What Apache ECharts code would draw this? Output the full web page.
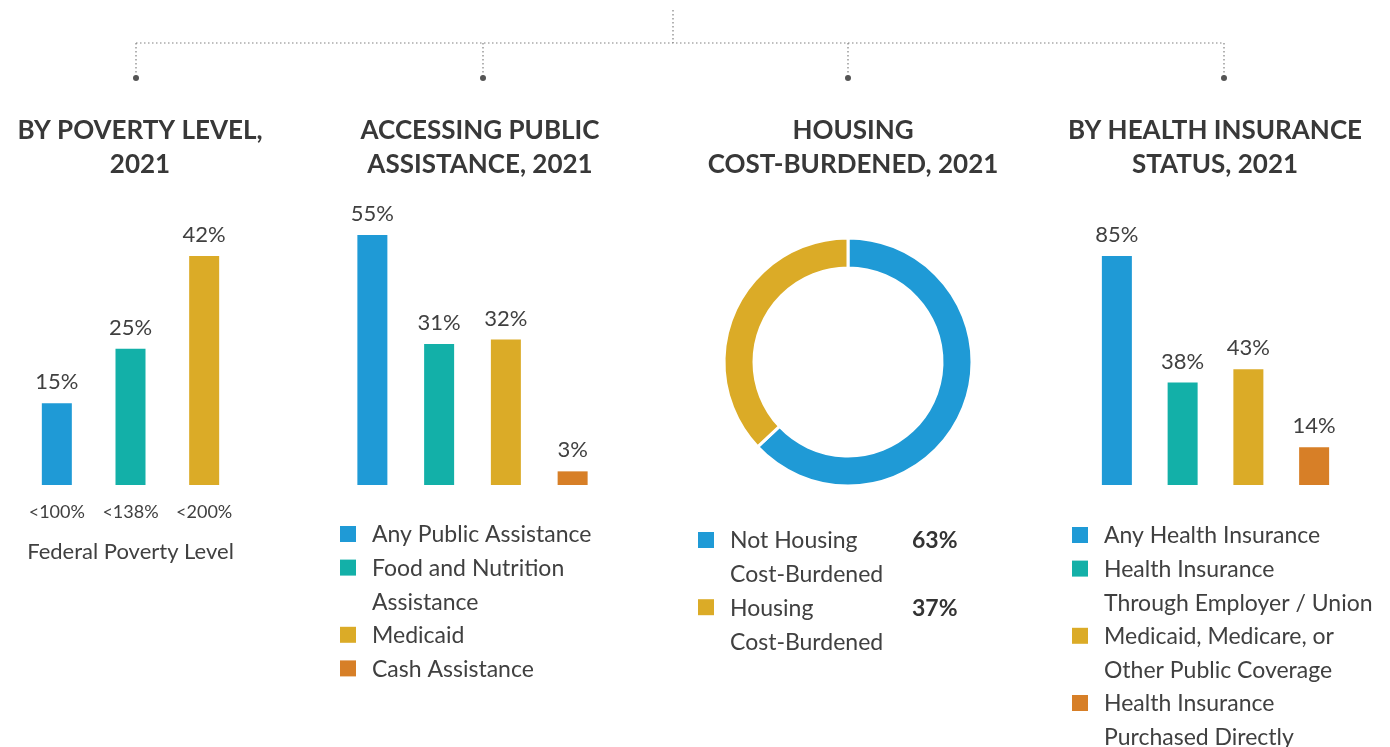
<!DOCTYPE html>
<html>
<head>
<meta charset="utf-8">
<script src="https://cdn.jsdelivr.net/npm/echarts@6/dist/echarts.min.js"></script>
<style>
  html, body { margin: 0; padding: 0; background: #fff; }
  #main { width: 1390px; height: 747px; }
</style>
</head>
<body>
<div id="main"></div>
<script>
// data
const povertyCats = ['<100%', '<138%', '<200%'];
const povertyVals = [15, 25, 42];

const assistNames = ['Any Public Assistance', 'Food and Nutrition\nAssistance', 'Medicaid', 'Cash Assistance'];
const assistVals = [55, 31, 32, 3];

const housingNames = ['Not Housing\nCost-Burdened', 'Housing\nCost-Burdened'];
const housingVals = [63, 37];

const insuranceNames = ['Any Health Insurance', 'Health Insurance\nThrough Employer / Union',
  'Medicaid, Medicare, or\nOther Public Coverage', 'Health Insurance\nPurchased Directly'];
const insuranceVals = [85, 38, 43, 14];

const titles = ['BY POVERTY LEVEL,\n2021', 'ACCESSING PUBLIC\nASSISTANCE, 2021',
  'HOUSING\nCOST-BURDENED, 2021', 'BY HEALTH INSURANCE\nSTATUS, 2021'];

const palette = ['#1f9ad6', '#13b0a8', '#dbab27', '#d77f27'];
const textColor = '#404040';
const font = 'Lato';

// helpers
const barSeries = (idx, vals) => ({
  type: 'bar',
  xAxisIndex: idx,
  yAxisIndex: idx,
  data: vals,
  barWidth: 30,
  itemStyle: { color: (p) => palette[p.dataIndex] },
  label: {
    show: true,
    position: 'top',
    distance: 10,
    formatter: '{c}%',
    color: textColor,
    fontFamily: font,
    fontSize: 22
  },
  silent: true,
  animation: false
});

const hiddenY = (max) => ({ type: 'value', max: max, show: false, min: 0 });

// legend built from names + colours, first line lines up with the square
const legendGraphic = (names, x, y, vals, colors) => {
  const out = [];
  let cy = y;
  names.forEach((n, i) => {
    const lines = n.split('\n').length;
    out.push({
      type: 'rect', left: x, top: cy - 8,
      shape: { width: 16, height: 16 },
      style: { fill: (colors || palette)[i] }
    });
    out.push({
      type: 'text', left: x + 32, top: cy - 16,
      style: { text: n, fill: textColor, font: '23px ' + font, lineHeight: 34 }
    });
    if (vals) {
      out.push({
        type: 'text', left: x + 214, top: cy - 16,
        style: { text: vals[i] + '%', fill: '#333', font: 'bold 23px ' + font, lineHeight: 34 }
      });
    }
    cy += lines * 33.6;
  });
  return out;
};

// dotted connector at the top
const dotted = { stroke: '#808080', lineWidth: 1.2, lineDash: [1.5, 2.5] };
const drops = [136, 483, 848, 1224];
const connector = [
  { type: 'line', shape: { x1: 673, y1: 10, x2: 673, y2: 43 }, style: dotted },
  { type: 'line', shape: { x1: 136, y1: 43, x2: 1224, y2: 43 }, style: dotted }
];
drops.forEach(x => {
  connector.push({ type: 'line', shape: { x1: x, y1: 43, x2: x, y2: 76 }, style: dotted });
  connector.push({ type: 'circle', shape: { cx: x, cy: 78, r: 3 }, style: { fill: '#555' } });
});

const titleCenters = [135, 475, 848, 1210];

const option = {
  backgroundColor: '#fff',
  animation: false,
  title: titles.map((t, i) => ({
    text: t,
    left: titleCenters[i],
    top: 109,
    textAlign: 'center',
    textStyle: { color: '#383838', fontFamily: font, fontWeight: 'bold', fontSize: 26, lineHeight: 34 }
  })),
  grid: [
    { left: 20, width: 221, top: 256, bottom: 262 },
    { left: 339, width: 267, top: 235, bottom: 262 },
    { left: 1084, width: 263, top: 256, bottom: 262 }
  ],
  xAxis: [
    {
      type: 'category', gridIndex: 0, data: povertyCats,
      axisLine: { show: false }, axisTick: { show: false },
      axisLabel: { color: textColor, fontFamily: font, fontSize: 18, margin: 18 },
      name: 'Federal Poverty Level', nameLocation: 'middle', nameGap: 56,
      nameTextStyle: { color: textColor, fontFamily: font, fontSize: 22 }
    },
    { type: 'category', gridIndex: 1, data: assistNames, show: false },
    { type: 'category', gridIndex: 2, data: insuranceNames, show: false }
  ],
  yAxis: [
    Object.assign(hiddenY('dataMax'), { gridIndex: 0 }),
    Object.assign(hiddenY('dataMax'), { gridIndex: 1 }),
    Object.assign(hiddenY('dataMax'), { gridIndex: 2 })
  ],
  series: [
    barSeries(0, povertyVals),
    barSeries(1, assistVals),
    barSeries(2, insuranceVals),
    {
      type: 'pie',
      center: [848, 362],
      radius: [94, 124],
      startAngle: 90,
      clockwise: true,
      silent: true,
      label: { show: false },
      labelLine: { show: false },
      itemStyle: { borderColor: '#fff', borderWidth: 3 },
      data: housingVals.map((v, i) => ({ name: housingNames[i], value: v, itemStyle: { color: palette[i * 2] } }))
    }
  ],
  graphic: [].concat(
    connector,
    legendGraphic(assistNames, 340, 534),
    legendGraphic(housingNames, 698, 540, housingVals, [palette[0], palette[2]]),
    legendGraphic(insuranceNames, 1072, 535)
  )
};

const chart = echarts.init(document.getElementById('main'));
chart.setOption(option);
window.addEventListener('resize', chart.resize);
</script>
</body>
</html>
